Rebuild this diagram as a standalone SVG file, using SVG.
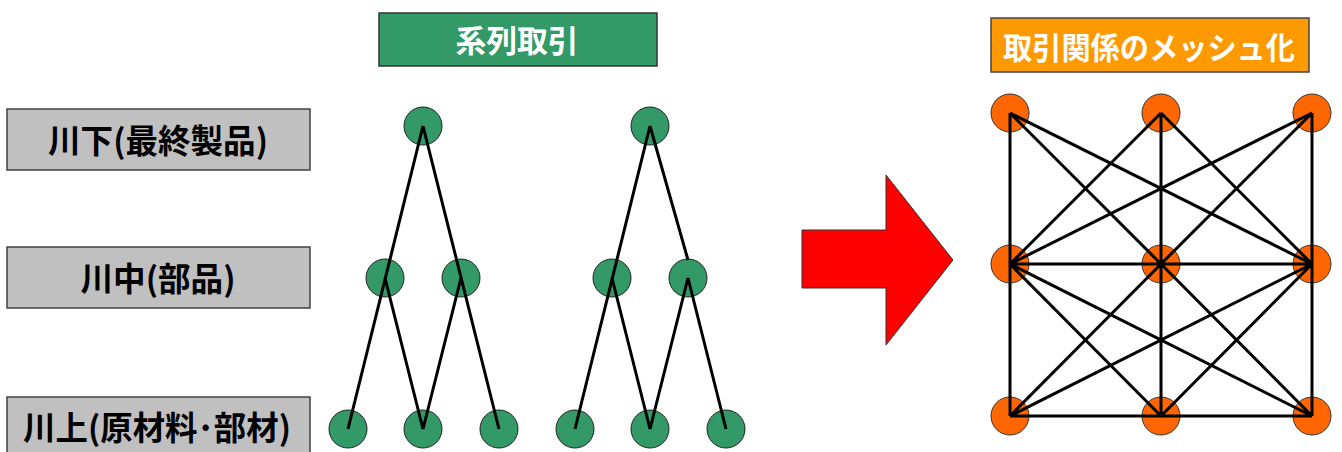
<svg xmlns="http://www.w3.org/2000/svg" width="1342" height="452" viewBox="0 0 1342 452">
<style>
.lbl{fill:#C0C0C0;stroke:#404040;stroke-width:1.5}
.t{font-family:"Noto Sans CJK JP","Noto Sans CJK SC",sans-serif;font-weight:bold;text-anchor:middle;dominant-baseline:central}
.tb{fill:#000;font-size:33px}
.tw{fill:#fff;font-size:31px}
.g{fill:#339966;stroke:#222;stroke-width:1}
.o{fill:#FF6600;stroke:#333;stroke-width:1}
.ln{stroke:#000;stroke-width:3;fill:none;stroke-linecap:butt}
</style>
<rect width="1342" height="452" fill="#fff"/>
<g id="label-downstream"><rect class="lbl" x="7" y="109" width="303" height="61"/><text class="t tb" x="158" y="139" textLength="220" lengthAdjust="spacingAndGlyphs">川下(最終製品)</text></g>
<g id="label-midstream"><rect class="lbl" x="7" y="247" width="303" height="61"/><text class="t tb" x="158" y="277" textLength="155" lengthAdjust="spacingAndGlyphs">川中(部品)</text></g>
<g id="label-upstream"><rect class="lbl" x="7" y="397" width="303" height="61"/><text class="t tb" x="157" y="426" textLength="268" lengthAdjust="spacingAndGlyphs">川上(原材料･部材)</text></g>
<g id="header-keiretsu"><rect x="379" y="13" width="278" height="53" fill="#339966" stroke="#333" stroke-width="1.5"/><text class="t tw" x="517" y="38" textLength="123" lengthAdjust="spacingAndGlyphs">系列取引</text></g>
<g id="header-mesh"><rect x="991" y="18" width="318" height="54" fill="#FF9900" stroke="#444" stroke-width="1.5"/><text class="t tw" x="1149" y="45" textLength="292" lengthAdjust="spacingAndGlyphs">取引関係のメッシュ化</text></g>
<g id="arrow"><polygon points="802,230 886,230 886,175 953,260 886,345 886,288 802,288" fill="#FF0000" stroke="#333" stroke-width="1"/></g>
<g id="tree-nodes">
<circle class="g" cx="423" cy="126" r="19"/><circle class="g" cx="650" cy="126" r="19"/>
<circle class="g" cx="385" cy="278" r="19"/><circle class="g" cx="461" cy="278" r="19"/>
<circle class="g" cx="612" cy="278" r="19"/><circle class="g" cx="688" cy="278" r="19"/>
<circle class="g" cx="348" cy="429" r="19"/><circle class="g" cx="423" cy="429" r="19"/><circle class="g" cx="499" cy="429" r="19"/>
<circle class="g" cx="575" cy="429" r="19"/><circle class="g" cx="650" cy="429" r="19"/><circle class="g" cx="726" cy="429" r="19"/>
</g>
<g id="mesh-nodes">
<circle class="o" cx="1010" cy="113" r="19"/><circle class="o" cx="1161" cy="113" r="19"/><circle class="o" cx="1312" cy="113" r="19"/>
<circle class="o" cx="1010" cy="264" r="19"/><circle class="o" cx="1161" cy="264" r="19"/><circle class="o" cx="1312" cy="264" r="19"/>
<circle class="o" cx="1010" cy="416" r="19"/><circle class="o" cx="1161" cy="416" r="19"/><circle class="o" cx="1312" cy="416" r="19"/>
</g>
<g id="connectors" class="ln">
<path class="ln" d="M423,126 L348,429 M423,126 L499,429 M385,278 L423,429 L461,278"/>
<path class="ln" d="M650,126 L575,429 M650,126 L688,260 M612,278 L650,429 L688,278 L726,429"/>
<path class="ln" d="M1010,113 L1010,416 M1161,113 L1161,416 M1312,113 L1312,416 M1010,264 L1312,264 M1010,416 L1312,416
M1010,113 L1161,264 M1010,113 L1312,264 M1161,113 L1010,264 M1161,113 L1312,264 M1312,113 L1010,264 M1312,113 L1161,264
M1010,264 L1161,416 M1010,264 L1312,416 M1161,264 L1010,416 M1161,264 L1312,416 M1312,264 L1010,416 M1312,264 L1161,416"/>
</g>
</svg>
